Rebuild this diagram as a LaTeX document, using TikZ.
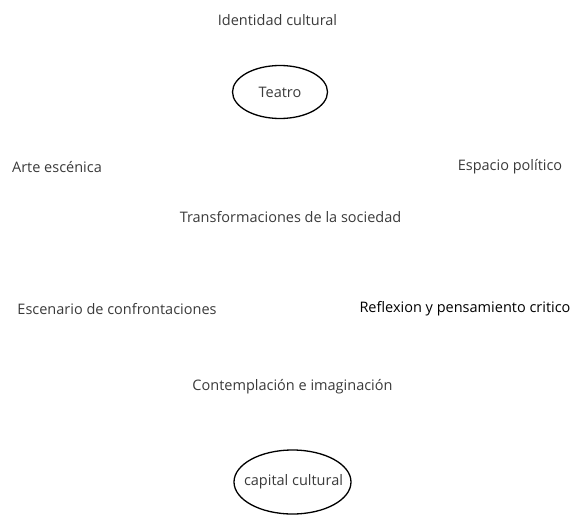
\documentclass[tikz,border=0pt]{standalone}
\usepackage{fontspec}
\setmainfont{Open Sans}
\definecolor{txtgray}{HTML}{3A3A3A}
\begin{document}
\begin{tikzpicture}[x=1pt,y=-1pt,
  lbl/.style={font=\fontsize{14.5}{16}\selectfont, text=txtgray, inner sep=0pt},
  oval/.style={draw=black, line width=1.3pt}]
\useasboundingbox (0,0) rectangle (572,516);
\node[lbl] (ident) at (277.5,20) {Identidad cultural};
\node[lbl] (teatro) at (280,92) {Teatro};
\draw[oval] (teatro.center) ellipse [x radius=47.5, y radius=26.5];
\node[lbl] (arte) at (57,167) {Arte escénica};
\node[lbl] (espacio) at (510,167) {Espacio político};
\node[lbl] (transf) at (290.5,217) {Transformaciones de la sociedad};
\node[lbl] (escen) at (117,309) {Escenario de confrontaciones};
\node[lbl, text=black] (reflex) at (465,309) {Reflexion y pensamiento critico};
\node[lbl] (contemp) at (292.5,387) {Contemplación e imaginación};
\node[lbl] (capital) at (293.5,482) {capital cultural};
\draw[oval] (292.5,482) ellipse [x radius=58.5, y radius=32];
\end{tikzpicture}
\end{document}
